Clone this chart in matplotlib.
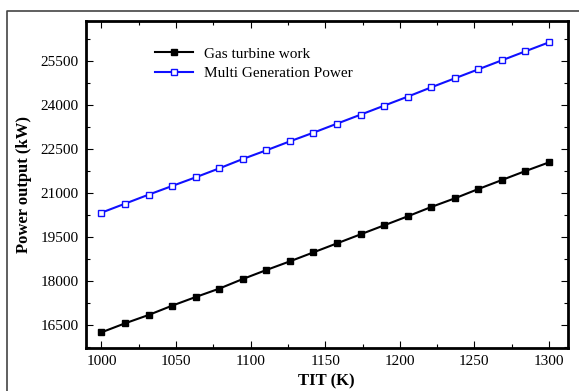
import numpy as np
import matplotlib
matplotlib.use("Agg")
import matplotlib.pyplot as plt
from matplotlib.lines import Line2D
from matplotlib.ticker import MultipleLocator

# turbine inlet temperature (K), 20 operating points
tit = np.linspace(1000, 1300, 20)

gas_turbine_work = [16250, 16557, 16841, 17159, 17455, 17739, 18068, 18375,
                    18670, 18977, 19284, 19591, 19898, 20205, 20523, 20818,
                    21136, 21443, 21750, 22045]
multi_gen_power = [20330, 20636, 20943, 21239, 21534, 21841, 22159, 22455,
                   22761, 23057, 23364, 23670, 23977, 24284, 24602, 24909,
                   25216, 25523, 25830, 26136]

xticks = [1000, 1050, 1100, 1150, 1200, 1250, 1300]
yticks = [16500, 18000, 19500, 21000, 22500, 24000, 25500]

plt.rcParams["font.family"] = ["Liberation Serif", "DejaVu Serif"]

W, H = 579, 391
fig = plt.figure(figsize=(W / 100, H / 100), dpi=100)
ax = fig.add_axes([85.5 / W, 1 - 348 / H, (567.5 - 85.5) / W, (348 - 20.7) / H])

ax.plot(tit, gas_turbine_work, color="black", lw=1.5, marker="s", ms=5,
        mfc="black", mec="black", label="Gas turbine work")
ax.plot(tit, multi_gen_power, color="#1010ff", lw=1.5, marker="s", ms=5,
        mfc="white", mec="#1010ff", mew=1.0, label="Multi Generation Power")

ax.set_xlim(989.3, 1312.4)
ax.set_ylim(15716, 26874)
ax.set_xticks(xticks)
ax.set_yticks(yticks)
ax.xaxis.set_minor_locator(MultipleLocator(25))
ax.yaxis.set_minor_locator(MultipleLocator(750))
ax.tick_params(which="both", direction="in", top=True, right=True,
               labelsize=11, width=0.8)
ax.tick_params(which="major", length=5, pad=5)
ax.tick_params(which="minor", length=3)
for s in ax.spines.values():
    s.set_linewidth(2)

ax.set_xlabel("TIT (K)", fontsize=12, fontweight="bold", labelpad=4)
ax.set_ylabel("Power output (kW)", fontsize=12, fontweight="bold", labelpad=6)

ax.legend(loc="upper left", bbox_to_anchor=(0.115, 0.962), frameon=False,
          fontsize=11, handlelength=2.5, handletextpad=0.7, labelspacing=0.4)

# thin outer frame around the figure
fig.add_artist(Line2D([6.5 / W, 6.5 / W, 1.0], [0, 1 - 11.3 / H, 1 - 11.3 / H],
                      transform=fig.transFigure, color="#444444", lw=1.2))

fig.savefig("out.png", dpi=100)
